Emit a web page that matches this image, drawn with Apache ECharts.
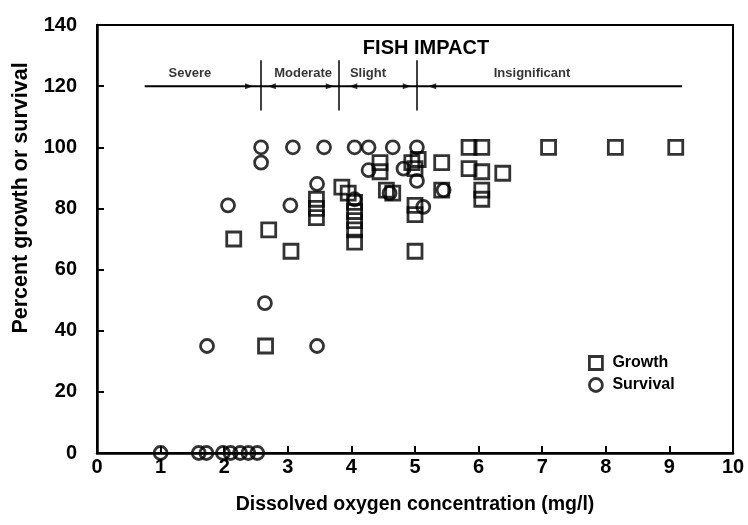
<!DOCTYPE html>
<html><head><meta charset="utf-8">
<script src="https://cdn.jsdelivr.net/npm/echarts@6/dist/echarts.min.js"></script>
<style>html,body{margin:0;padding:0;background:#fff}#c{width:748px;height:525px}</style>
</head><body><div id="c"></div>
<script>
// ---- data ----
const xRange = [0, 10];
const yRange = [0, 140];
const title = 'FISH IMPACT';
const xTitle = 'Dissolved oxygen concentration (mg/l)';
const yTitle = 'Percent growth or survival';

const growth = [
  [2.15, 70], [2.7, 73], [2.65, 35], [3.05, 66],
  [3.45, 83], [3.45, 80], [3.45, 77],
  [3.85, 87], [3.95, 85],
  [4.05, 82], [4.05, 79], [4.05, 76], [4.05, 73], [4.05, 69],
  [4.45, 95], [4.45, 92], [4.55, 86], [4.65, 85],
  [4.95, 95], [5.05, 96], [5.0, 93], [5.0, 81], [5.0, 78], [5.0, 66],
  [5.42, 95], [5.42, 86],
  [5.85, 100], [6.05, 100], [5.85, 93], [6.05, 92], [6.05, 86], [6.05, 83],
  [6.38, 91.5], [7.1, 100], [8.15, 100], [9.1, 100]
];
const survival = [
  [1.0, 0], [1.6, 0], [1.72, 0], [1.98, 0], [2.1, 0], [2.25, 0], [2.38, 0], [2.52, 0],
  [1.73, 35], [2.06, 81], [2.58, 100], [2.58, 95], [2.64, 49],
  [3.08, 100], [3.04, 81], [3.57, 100], [3.46, 88], [3.46, 35],
  [4.05, 100], [4.27, 100], [4.65, 100], [5.03, 100],
  [4.27, 92.5], [4.05, 83], [4.82, 93], [4.6, 85],
  [5.03, 89], [5.13, 80.5], [5.45, 86]
];

const zoneBounds = [0.75, 2.58, 3.8, 5.03, 9.2];
const zoneLevel = 120;
const zoneDividerRange = [112, 128.5];
const zoneNames = ['Severe', 'Moderate', 'Slight', 'Insignificant'];
const zoneLabelX = [1.46, 3.24, 4.26, 6.84];
const zoneLabelY = 124;
const arrowX = [2.39, 2.75, 3.66, 4.03, 4.87, 5.27];
const arrowDir = ['right', 'left', 'right', 'left', 'right', 'left'];

// ---- chart ----
const FONT = "'Liberation Sans', Arial, sans-serif";
const chart = echarts.init(document.getElementById('c'), null, {renderer: 'canvas'});
const hollow = {color: 'rgba(0,0,0,0)', borderColor: '#000', borderWidth: 2.8};

chart.setOption({
  animation: false,
  backgroundColor: '#fff',
  grid: {left: 97, right: 15, top: 25, bottom: 72, show: true, borderColor: '#000', borderWidth: 2},
  title: {text: title, left: 421, top: 33, textAlign: 'center',
    textStyle: {fontFamily: FONT, fontWeight: 'bold', fontSize: 20, color: '#000'}},
  legend: {
    data: [
      {name: 'Growth', icon: 'rect', itemStyle: hollow},
      {name: 'Survival', icon: 'circle', itemStyle: hollow}
    ],
    orient: 'vertical', left: 583, top: 350, itemGap: 6, itemWidth: 13, itemHeight: 13,
    textStyle: {fontFamily: FONT, fontWeight: 'bold', fontSize: 16, color: '#000', padding: [0, 0, 0, 5]}
  },
  xAxis: {
    type: 'value', min: xRange[0], max: xRange[1], interval: 1,
    name: xTitle, nameLocation: 'middle', nameGap: 42,
    nameTextStyle: {fontFamily: FONT, fontWeight: 'bold', fontSize: 19.5, color: '#000'},
    axisLine: {lineStyle: {color: '#000', width: 2.5}},
    axisTick: {inside: true, length: 7, lineStyle: {color: '#000', width: 2}},
    axisLabel: {fontFamily: FONT, fontWeight: 'bold', fontSize: 20, color: '#000', margin: 4},
    splitLine: {show: false}
  },
  yAxis: {
    type: 'value', min: yRange[0], max: yRange[1], interval: 20,
    name: yTitle, nameLocation: 'middle', nameRotate: 90, nameGap: 65,
    nameTextStyle: {fontFamily: FONT, fontWeight: 'bold', fontSize: 21.5, color: '#000', padding: [0, 0, 0, 82]},
    axisLine: {lineStyle: {color: '#000', width: 2.5}},
    axisTick: {inside: true, length: 7, lineStyle: {color: '#000', width: 2}},
    axisLabel: {fontFamily: FONT, fontWeight: 'bold', fontSize: 20, color: '#000', margin: 20},
    splitLine: {show: false}
  },
  series: [
    {
      name: 'Growth', type: 'scatter', symbol: 'rect', symbolSize: 14,
      itemStyle: hollow, data: growth, z: 5
    },
    {
      name: 'Survival', type: 'scatter', symbol: 'circle', symbolSize: 13,
      itemStyle: hollow, data: survival, z: 6
    },
    {
      name: 'zones', type: 'line', symbol: 'none', silent: true,
      lineStyle: {color: '#000', width: 2},
      data: [[zoneBounds[0], zoneLevel], [zoneBounds[zoneBounds.length - 1], zoneLevel]],
      markLine: {
        silent: true, symbol: 'none', label: {show: false},
        lineStyle: {color: '#000', width: 1.5, type: 'solid'},
        data: zoneBounds.slice(1, -1).map(x => [
          {coord: [x, zoneDividerRange[0]]}, {coord: [x, zoneDividerRange[1]]}
        ])
      }
    },
    {
      name: 'zoneArrows', type: 'scatter', symbol: 'triangle', symbolSize: [6, 8], silent: true,
      itemStyle: {color: '#000'},
      data: arrowX.map((x, i) => ({value: [x, zoneLevel], symbolRotate: arrowDir[i] === 'right' ? -90 : 90}))
    },
    {
      name: 'zoneLabels', type: 'scatter', symbolSize: 0, silent: true,
      data: zoneNames.map((n, i) => ({name: n, value: [zoneLabelX[i], zoneLabelY]})),
      label: {show: true, position: 'inside', formatter: p => p.name,
        fontFamily: FONT, fontWeight: 'bold', fontSize: 13, color: '#000'}
    }
  ]
});
</script></body></html>
